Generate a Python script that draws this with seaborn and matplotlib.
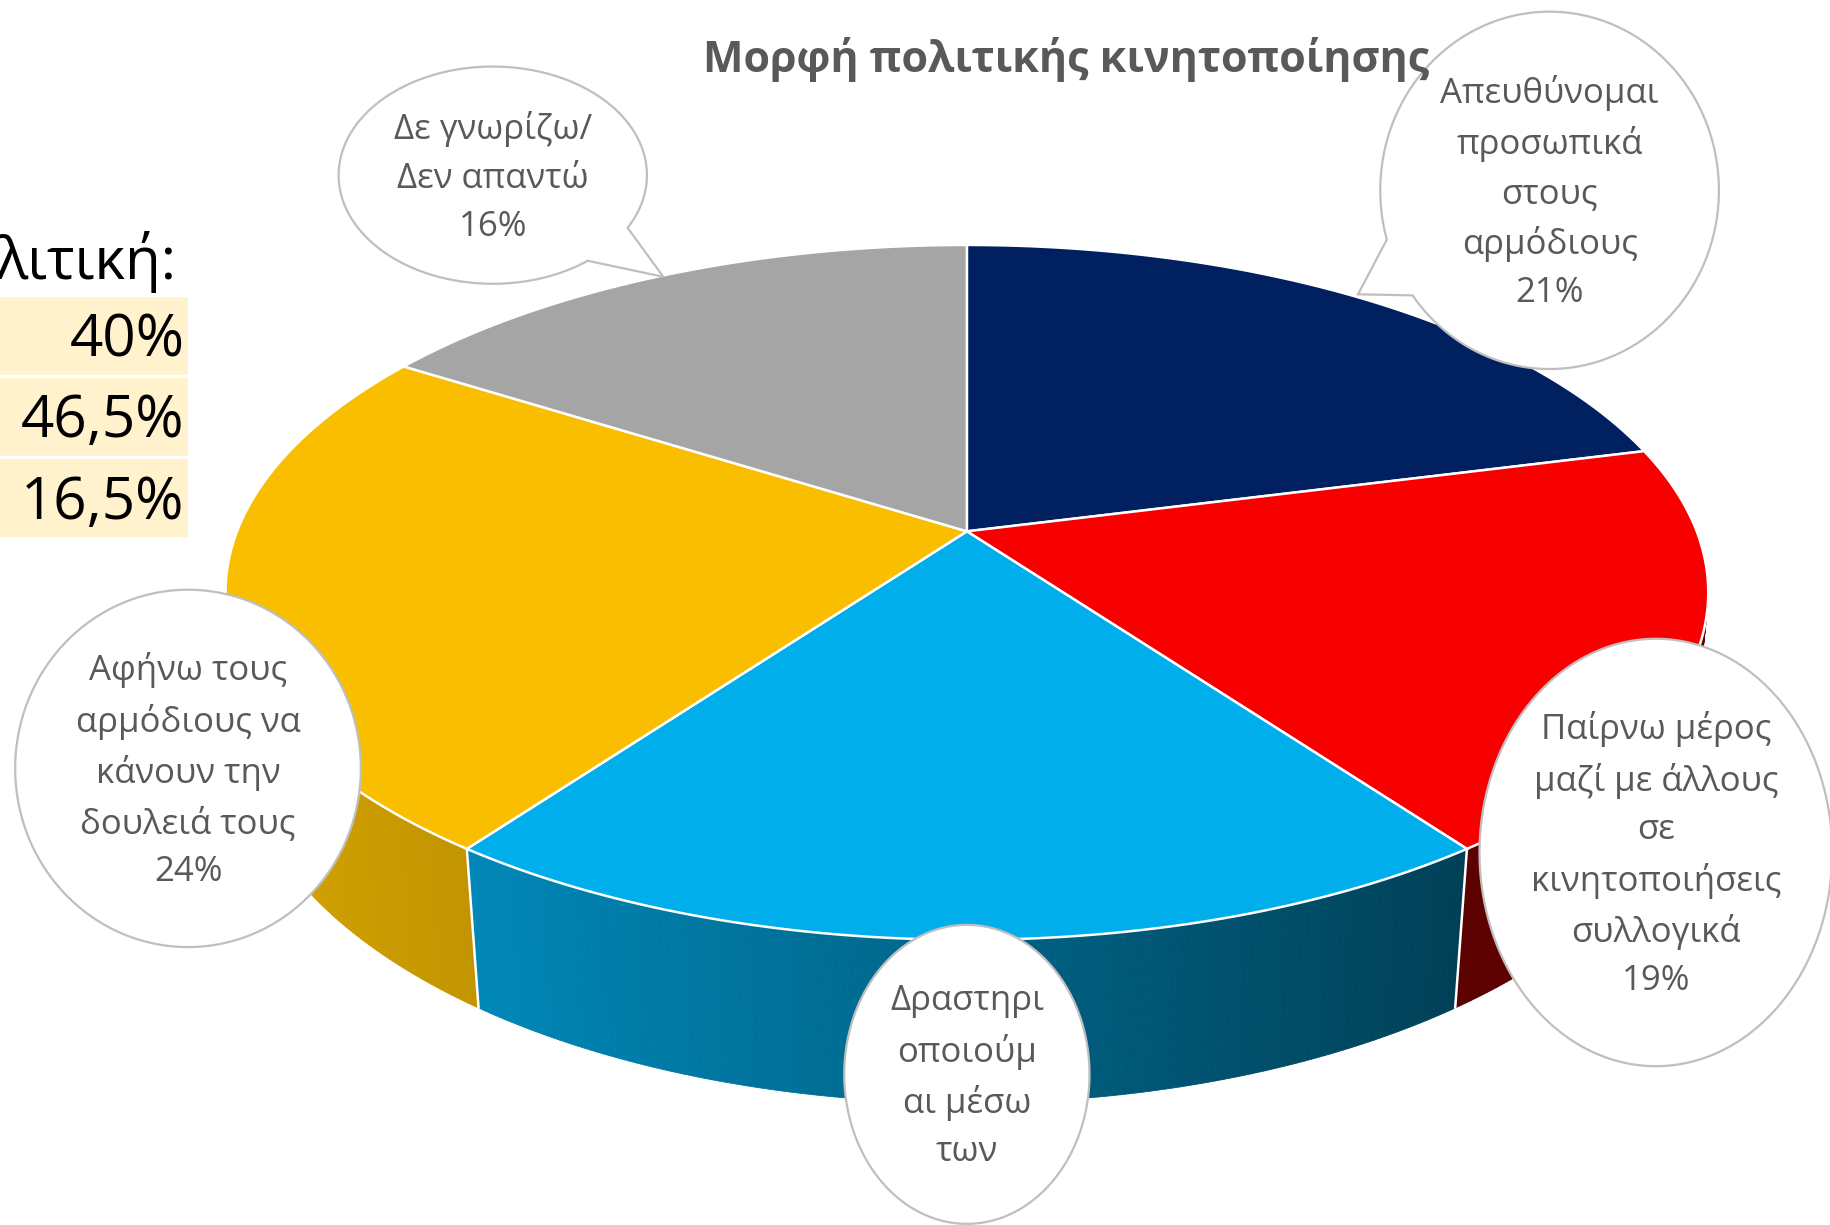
"""3D pie chart: Μορφή πολιτικής κινητοποίησης."""

import matplotlib
matplotlib.use("Agg")
import matplotlib.pyplot as plt
import numpy as np
import seaborn as sns
from matplotlib.collections import PolyCollection
from matplotlib.patches import Polygon, Rectangle

# --- data ---------------------------------------------------------------
title = "Μορφή πολιτικής κινητοποίησης"
categories = [
    "Απευθύνομαι\nπροσωπικά\nστους\nαρμόδιους",
    "Παίρνω μέρος\nμαζί με άλλους\nσε\nκινητοποιήσεις\nσυλλογικά",
    "Δραστηρι\nοποιούμ\nαι μέσω\nτων",
    "Αφήνω τους\nαρμόδιους να\nκάνουν την\nδουλειά τους",
    "Δε γνωρίζω/\nΔεν απαντώ",
]
shares = [21, 19, 20, 24, 16]
show_share = [True, True, False, True, True]
slice_colors = ["#002060", "#F90000", "#00AEEC", "#F9BE00", "#A5A5A5"]

table_header = "λιτική:"
table_values = ["40%", "46,5%", "16,5%"]

# --- layout (pixel space of the picture) --------------------------------
W, H = 1568, 1049
CX, CY = 828, 455          # pie centre on screen
SCALE = 625                # horizontal radius at the centre depth
DIST = 5.05                # camera distance (in pie radii)
TILT_S = 0.4613
TILT_C = np.sqrt(1 - TILT_S ** 2)
THICK = 0.226

# bubble: centre, semi-axes, optional tail (angle1, angle2, tip)
bubbles = [
    dict(c=(1327, 163), ab=(145, 153), tail=(196, 216, (1163, 252))),
    dict(c=(1418, 730), ab=(151, 183), tail=None),
    dict(c=(828, 920), ab=(105, 128), tail=None),
    dict(c=(161, 658), ab=(148, 153), tail=None),
    dict(c=(422, 150), ab=(132, 93), tail=(308, 331, (568, 237))),
]


def project(theta_deg, z):
    th = np.radians(np.asarray(theta_deg, dtype=float))
    x, y = np.cos(th), np.sin(th)
    up = y * TILT_S + z * TILT_C
    depth = DIST + y * TILT_C - z * TILT_S
    k = SCALE * DIST / depth
    return CX + k * x, CY - k * up


def side_shade(sx):
    return np.interp(sx, [190, 400, 1255, 1470], [0.86, 0.78, 0.37, 0.37])


def bubble_polygon(c, ab, tail):
    cx, cy = c
    a, b = ab
    if tail is None:
        phi = np.radians(np.linspace(0, 360, 400))
        return np.column_stack([cx + a * np.cos(phi), cy - b * np.sin(phi)])
    p1, p2, tip = tail
    phi = np.radians(np.linspace(p2, p1 + 360, 400))
    pts = np.column_stack([cx + a * np.cos(phi), cy - b * np.sin(phi)])
    return np.vstack([pts, [tip]])


sns.set_theme(style="white")
plt.rcParams["font.family"] = ["Open Sans", "DejaVu Sans"]

fig = plt.figure(figsize=(18.31, 12.25), dpi=100)
ax = fig.add_axes([0, 0, 1, 1])
ax.set_xlim(0, W)
ax.set_ylim(H, 0)
ax.axis("off")

# slice angles, clockwise from 12 o'clock
bounds = 90 - 3.6 * np.concatenate([[0], np.cumsum(shares)])
limit = np.degrees(np.arcsin(-1 / (DIST * TILT_C)))   # side silhouette
vis_lo, vis_hi = -180 - limit, limit

# side walls (front half only)
for start, end, color in zip(bounds[:-1], bounds[1:], slice_colors):
    lo, hi = max(end, vis_lo), min(start, vis_hi)
    if lo >= hi:
        continue
    th = np.linspace(lo, hi, max(int(hi - lo) * 2, 2))
    tx, ty = project(th, 0)
    bx, by = project(th, -THICK)
    quads, cols = [], []
    base = np.array(matplotlib.colors.to_rgb(color))
    for i in range(len(th) - 1):
        quads.append([(tx[i], ty[i]), (tx[i + 1], ty[i + 1]), (bx[i + 1], by[i + 1]), (bx[i], by[i])])
        cols.append(base * side_shade((tx[i] + tx[i + 1]) / 2))
    ax.add_collection(PolyCollection(quads, facecolors=cols, edgecolors=cols, linewidths=0.6, zorder=1))

for b in bounds:
    b = ((b + 180) % 360) - 180
    if vis_lo < b < vis_hi:
        tx, ty = project([b], 0)
        bx, by = project([b], -THICK)
        ax.plot([tx[0], bx[0]], [ty[0], by[0]], color="white", lw=1.8, zorder=2)

# top surface
for start, end, color in zip(bounds[:-1], bounds[1:], slice_colors):
    th = np.linspace(start, end, 200)
    tx, ty = project(th, 0)
    pts = np.vstack([[CX, CY], np.column_stack([tx, ty])])
    ax.add_patch(Polygon(pts, closed=True, facecolor=color, edgecolor="white", lw=1.8, zorder=3))

ax.text(913, 51, title, ha="center", va="center", fontsize=31, fontweight="bold",
        color="#595959", zorder=7)

# callouts
for spec, label, share, show in zip(bubbles, categories, shares, show_share):
    ax.add_patch(Polygon(bubble_polygon(spec["c"], spec["ab"], spec["tail"]), closed=True,
                         facecolor="white", edgecolor="#BFBFBF", lw=1.6, zorder=5))
    text = f"{label}\n{share}%" if show else label
    ax.text(spec["c"][0], spec["c"][1] + 2, text, ha="center", va="center", multialignment="center",
            fontsize=25, color="#595959", linespacing=1.55, zorder=6)

# table fragment on the left
ax.text(-3, 224, table_header, ha="left", va="center", fontsize=42, color="black")
for i, value in enumerate(table_values):
    top = 254 + i * 69.5
    ax.add_patch(Rectangle((0, top), 161, 67, facecolor="#FFF2CC", edgecolor="none", zorder=1))
    ax.text(158, top + 38, value, ha="right", va="center", fontsize=42, color="black", zorder=2)

fig.savefig("out.png", dpi=100)
